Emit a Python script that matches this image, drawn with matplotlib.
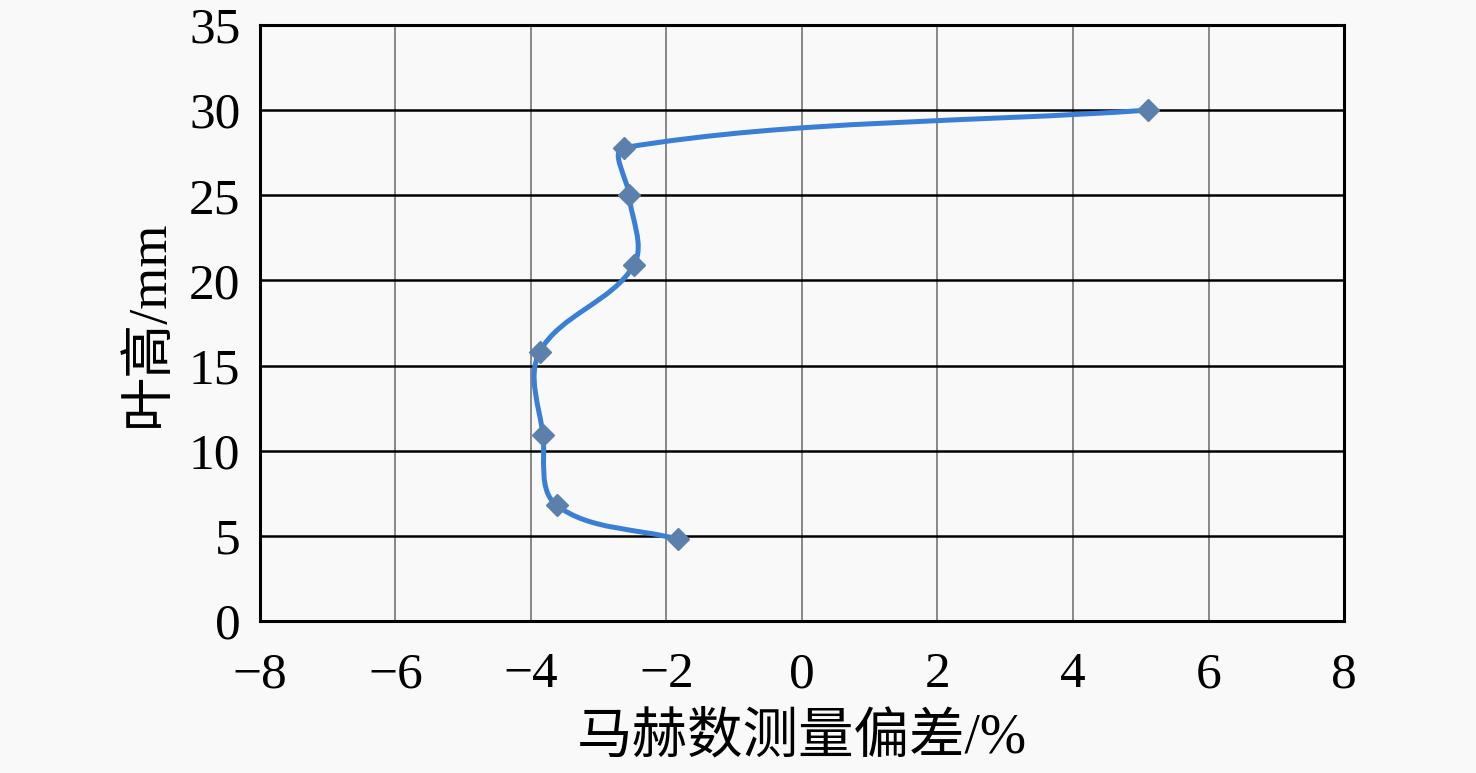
import numpy as np
import matplotlib
matplotlib.use("Agg")
import matplotlib.pyplot as plt
from matplotlib.path import Path
from matplotlib.patches import PathPatch

# data
mach_dev = [5.1, -2.62, -2.55, -2.48, -3.87, -3.82, -3.62, -1.83]
height = [30.0, 27.8, 25.0, 20.9, 15.8, 10.9, 6.8, 4.8]
x_ticks = [-8, -6, -4, -2, 0, 2, 4, 6, 8]
y_ticks = [0, 5, 10, 15, 20, 25, 30, 35]

serif = ['Liberation Serif', 'Noto Sans CJK SC']
bg = '#f9f9f9'


def smooth_path(xs, ys, sx, sy, k=0.33):
    # smoothed line with tangent lengths tied to the segment length,
    # worked out in pixel-like units so it does not overshoot
    pts = np.column_stack([xs, ys]) * [sx, sy]
    n = len(pts)

    def tangent(i):
        d = pts[min(i + 1, n - 1)] - pts[max(i - 1, 0)]
        return d / np.hypot(*d)

    verts = [pts[0]]
    codes = [Path.MOVETO]
    for i in range(n - 1):
        p1, p2 = pts[i], pts[i + 1]
        seg = np.hypot(*(p2 - p1))
        verts += [p1 + tangent(i) * seg * k, p2 - tangent(i + 1) * seg * k, p2]
        codes += [Path.CURVE4] * 3
    verts = np.array(verts) / [sx, sy]
    return Path(verts, codes)


fig = plt.figure(figsize=(14.76, 7.73), dpi=100, facecolor=bg)
ax = fig.add_axes([0.176, 0.1966, 0.7346, 0.7711], facecolor=bg)

ax.set_xlim(-8, 8)
ax.set_ylim(0, 35)
ax.set_xticks(x_ticks)
ax.set_yticks(y_ticks)

for xv in x_ticks[1:-1]:
    ax.axvline(xv, color='#7f7f7f', lw=1.3, zorder=1)
for yv in y_ticks[1:-1]:
    ax.axhline(yv, color='black', lw=1.8, zorder=1)

# pixels per data unit, for the smoothing only
px_x = 1084 / 16.0
px_y = 596 / 35.0
patch = PathPatch(smooth_path(mach_dev, height, px_x, px_y), facecolor='none',
                  edgecolor='#3a7fd5', lw=3.6, zorder=3)
ax.add_patch(patch)
ax.plot(mach_dev, height, linestyle='none', marker='D', markersize=11.5,
        color='#5b80ab', zorder=4)

for s in ax.spines.values():
    s.set_linewidth(2.2)
    s.set_color('black')

ax.tick_params(axis='both', length=0, labelsize=37)
ax.tick_params(axis='x', pad=22)
ax.tick_params(axis='y', pad=14)
for lab in ax.get_xticklabels() + ax.get_yticklabels():
    lab.set_family(serif)

ax.set_xlabel('马赫数测量偏差/%', family=serif, fontsize=40, labelpad=10)
ax.set_ylabel('叶高/mm', family=serif, fontsize=39, labelpad=10)

fig.savefig('out.png', dpi=100, facecolor=bg)
